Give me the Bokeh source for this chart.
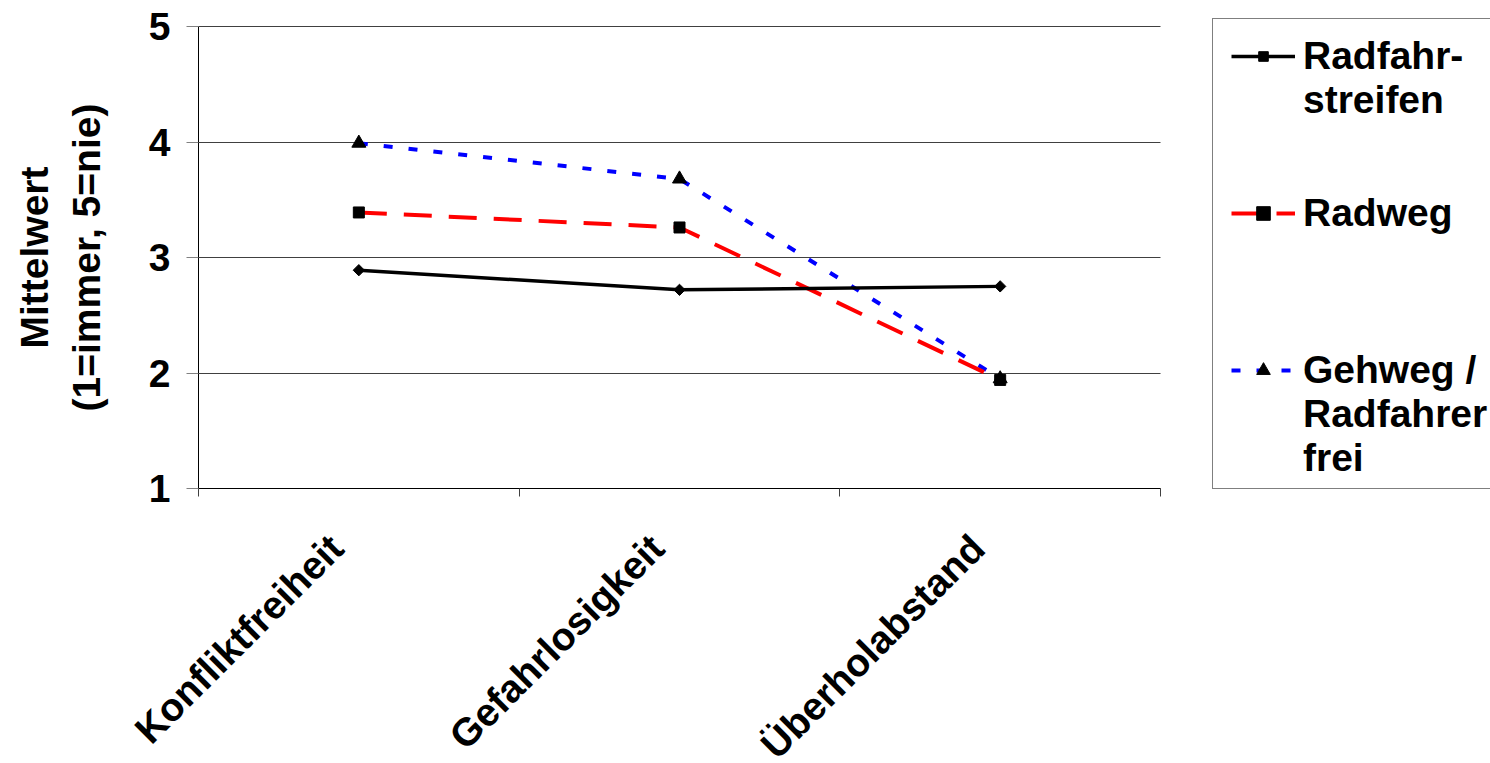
import math
import numpy as np
from bokeh.plotting import figure
from bokeh.models import Range1d, FixedTicker, Legend, LegendItem, Label
from bokeh.embed import file_html
from bokeh.resources import INLINE

categories = ["Konfliktfreiheit", "Gefahrlosigkeit", "Überholabstand"]
radfahrstreifen = [2.89, 2.72, 2.75]
radweg = [3.39, 3.26, 1.94]
gehweg = [3.99, 3.68, 1.95]
y_ticks = [1, 2, 3, 4, 5]
y_title = "Mittelwert\n(1=immer, 5=nie)"

FONT = "Liberation Sans"
FS = "39px"

# layout (pixels): the frame covers the whole canvas, the axes are pinned
W, H = 1490, 763
PL, PR, PT, PB = 198, 1160, 26, 488    # visible plot area
n = len(categories)
ppx = (PR - PL) / n
ppy = (PB - PT) / (y_ticks[-1] - y_ticks[0])

x = np.arange(n) + 0.5

p = figure(width=W, height=H, output_backend="svg", toolbar_location=None,
           x_range=Range1d(-PL / ppx, (W - PL) / ppx),
           y_range=Range1d(y_ticks[0] - (H - PB) / ppy, y_ticks[0] + PB / ppy),
           min_border=0)
p.outline_line_color = None
p.background_fill_color = "white"
p.border_fill_color = "white"

# grid
p.xgrid.grid_line_color = None
p.ygrid.ticker = FixedTicker(ticks=y_ticks)
p.ygrid.grid_line_color = "#404040"
p.ygrid.grid_line_width = 1
p.ygrid.bounds = (y_ticks[0], y_ticks[-1])
p.ygrid.cross_bounds = (0, n)

# y axis
p.yaxis.fixed_location = 0
p.yaxis.ticker = FixedTicker(ticks=y_ticks)
p.yaxis.bounds = (y_ticks[0], y_ticks[-1])
p.yaxis.axis_line_color = "black"
p.yaxis.major_tick_out = 12
p.yaxis.major_tick_in = 0
p.yaxis.major_tick_line_color = "#808080"
p.yaxis.minor_tick_line_color = None
p.yaxis.major_label_text_font = FONT
p.yaxis.major_label_text_font_style = "bold"
p.yaxis.major_label_text_font_size = FS
p.yaxis.major_label_text_color = "black"
p.yaxis.major_label_standoff = 16

p.add_layout(Label(x=60, x_units="screen", y=(y_ticks[0] + y_ticks[-1]) / 2, y_units="data",
                   text=y_title, angle=math.pi / 2, text_align="center",
                   text_baseline="middle", text_font=FONT, text_font_style="bold",
                   text_font_size=FS, text_color="black", text_line_height=1.2))

# x axis (pinned at the bottom of the value scale)
label_pos = [float(v) - 0.07 for v in x]
p.xaxis.fixed_location = y_ticks[0]
p.xaxis.ticker = FixedTicker(ticks=label_pos, minor_ticks=list(range(n + 1)))
p.xaxis.major_label_overrides = {v: c for v, c in zip(label_pos, categories)}
p.xaxis.bounds = (0, n)
p.xaxis.major_tick_line_color = None
p.xaxis.minor_tick_out = 8
p.xaxis.minor_tick_in = 0
p.xaxis.minor_tick_line_color = "#404040"
p.xaxis.axis_line_color = "black"
p.xaxis.major_label_orientation = math.pi / 4
p.xaxis.major_label_text_font = FONT
p.xaxis.major_label_text_font_style = "bold"
p.xaxis.major_label_text_font_size = FS
p.xaxis.major_label_text_color = "black"
p.xaxis.major_label_standoff = 45

# series
l3 = p.line(x, gehweg, line_color="blue", line_width=4, line_dash="9 16")
m3 = p.scatter(x, gehweg, marker="triangle", size=14, fill_color="black", line_color="black")
l2 = p.line(x, radweg, line_color="red", line_width=4, line_dash="28 17")
m2 = p.scatter(x, radweg, marker="square", size=11, fill_color="black", line_color="black")
l1 = p.line(x, radfahrstreifen, line_color="black", line_width=3.5)
m1 = p.scatter(x, radfahrstreifen, marker="square", angle=math.pi / 4, size=8,
               fill_color="black", line_color="black")
blank = p.line(x=[], y=[], line_alpha=0)

LH = 43


def make_legend(items, gx, top, glyph_h):
    lg = Legend(items=items)
    lg.label_text_font = FONT
    lg.label_text_font_style = "bold"
    lg.label_text_font_size = FS
    lg.label_text_color = "black"
    lg.label_text_line_height = LH / 39
    lg.glyph_width = 64
    lg.glyph_height = glyph_h
    lg.label_height = LH
    lg.label_standoff = 8
    lg.spacing = 0
    lg.padding = 0
    lg.margin = 0
    lg.border_line_color = None
    lg.background_fill_alpha = 0
    lg.location = (gx, H - (top + LH * len(items)))
    return lg


# legend frame
box = Legend(items=[LegendItem(label="\u00a0", renderers=[blank])])
box.glyph_width = 300
box.glyph_height = 469
box.label_height = 10
box.padding = 0
box.margin = 0
box.spacing = 0
box.label_text_font_size = "10px"
box.border_line_color = "black"
box.border_line_width = 1
box.background_fill_color = "white"
box.background_fill_alpha = 1
box.location = (1212, H - 489)
p.add_layout(box, "center")

leg1 = make_legend([LegendItem(label="Radfahr-", renderers=[l1, m1]),
                    LegendItem(label="streifen", renderers=[blank])],
                   1231, 57 - LH / 2, 24)
leg2 = make_legend([LegendItem(label="Radweg", renderers=[l2, m2])],
                   1231, 213 - LH / 2, 34)
leg3 = make_legend([LegendItem(label="Gehweg /", renderers=[l3, m3]),
                    LegendItem(label="Radfahrer", renderers=[blank]),
                    LegendItem(label="frei", renderers=[blank])],
                   1231, 372 - LH / 2, 34)
for lg in (leg1, leg2, leg3):
    p.add_layout(lg, "center")

open("out.html", "w").write(file_html(p, INLINE))
